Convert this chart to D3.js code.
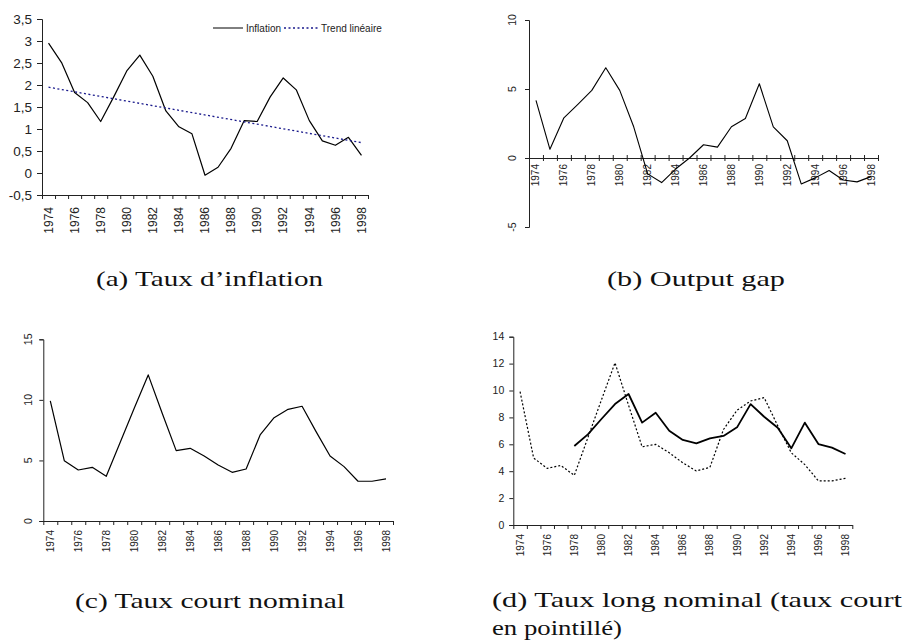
<!DOCTYPE html>
<html>
<head>
<meta charset="utf-8">
<script src="https://cdn.jsdelivr.net/npm/d3@7"></script>
<style>
  body { margin: 0; background: #fff; }
  svg { display: block; }
  .cap { font-family: "Liberation Serif", "Times New Roman", serif; fill: #111; }
  .lbl { font-family: "Liberation Sans", Arial, sans-serif; fill: #222; }
</style>
</head>
<body>
<div id="chart"></div>
<script>
var years = ["1974","1975","1976","1977","1978","1979","1980","1981","1982","1983","1984","1985","1986",
             "1987","1988","1989","1990","1991","1992","1993","1994","1995","1996","1997","1998"];
var yearLabels = ["1974","1976","1978","1980","1982","1984","1986","1988","1990","1992","1994","1996","1998"];

var inflation = [2.95, 2.51, 1.83, 1.60, 1.17, 1.73, 2.32, 2.68, 2.20, 1.41, 1.05, 0.89, -0.05,
                 0.13, 0.56, 1.19, 1.17, 1.73, 2.16, 1.89, 1.19, 0.73, 0.63, 0.81, 0.40];
// linear trend, only its two ends (1974, 1998)
var trendYears = ["1974", "1998"];
var trendEnds = [1.95, 0.69];

var outputGap = [4.18, 0.63, 2.91, 3.89, 4.90, 6.54, 4.90, 2.26, -1.15, -1.78, -0.80, 0.00, 0.96,
                 0.79, 2.26, 2.86, 5.38, 2.26, 1.25, -1.88, -1.44, -0.91, -1.59, -1.73, -1.35];

var shortRate = [9.91, 4.98, 4.21, 4.43, 3.69, 6.50, 9.30, 12.06, 8.90, 5.81, 6.00, 5.37, 4.62,
                 4.02, 4.29, 7.10, 8.53, 9.22, 9.47, 7.38, 5.37, 4.49, 3.28, 3.28, 3.47];

var longRate = [null, null, null, null, 5.87, 6.74, 7.88, 8.99, 9.74, 7.61, 8.35, 7.01, 6.32,
                6.07, 6.44, 6.62, 7.26, 8.99, 8.05, 7.23, 5.70, 7.61, 6.02, 5.75, 5.28];

var ticksA = [-0.5, 0, 0.5, 1, 1.5, 2, 2.5, 3, 3.5];
var ticksB = [-5, 0, 5, 10];
var ticksC = [0, 5, 10, 15];
var ticksD = [0, 2, 4, 6, 8, 10, 12, 14];

var svg = d3.select("#chart").append("svg")
    .attr("width", 903)
    .attr("height", 643);

var comma = function (v) { return String(v).replace(".", ","); };

function panel(p) {
    var g = svg.append("g");
    var x = d3.scaleBand().domain(years).range([p.x0, p.x1]).paddingInner(0).paddingOuter(0);
    var y = d3.scaleLinear().domain(p.domain).range([p.yBot, p.yTop]);
    var cx = function (yr) { return x(yr) + x.bandwidth() / 2; };
    var axisY = p.axisAtZero ? y(0) : p.yBot;

    // y axis
    var yAxis = d3.axisLeft(y).tickValues(p.ticks).tickSize(p.yTick).tickFormat("");
    g.append("g").attr("transform", "translate(" + p.x0 + ",0)").call(yAxis)
        .call(function (s) { s.selectAll("path,line").attr("stroke", "#222"); });

    // x axis with ticks between categories
    var edges = years.map(function (d) { return x(d); }).concat([p.x1]);
    var xs = d3.scaleLinear().domain([p.x0, p.x1]).range([p.x0, p.x1]);
    var xAxis = d3.axisBottom(xs).tickValues(edges).tickSizeInner(p.xTick).tickSizeOuter(0).tickFormat("");
    var xg = g.append("g").attr("transform", "translate(0," + axisY + ")").call(xAxis);
    xg.selectAll("path,line").attr("stroke", "#222");
    if (p.crossTicks) xg.selectAll(".tick line").attr("y1", -3);

    // y labels
    var yl = g.selectAll(".ylab").data(p.ticks).enter().append("text")
        .attr("class", "lbl")
        .style("font-size", p.yFont + "px")
        .text(function (d) { return p.fmt(d); });
    if (p.yRotate) {
        yl.attr("text-anchor", "middle")
          .attr("dy", "0.35em")
          .attr("transform", function (d) { return "translate(" + (p.x0 - p.yGap) + "," + y(d) + ") rotate(-90)"; });
    } else {
        yl.attr("text-anchor", "end")
          .attr("dy", "0.36em")
          .attr("x", p.x0 - p.yGap)
          .attr("y", function (d) { return y(d); });
    }

    // year labels
    g.selectAll(".xlab").data(yearLabels).enter().append("text")
        .attr("class", "lbl")
        .style("font-size", p.xFont + "px")
        .attr("text-anchor", "end")
        .attr("dy", "0.35em")
        .attr("transform", function (d) { return "translate(" + cx(d) + "," + (axisY + p.xGap) + ") rotate(-90)"; })
        .text(function (d) { return d; });

    // series
    p.series.forEach(function (s) {
        var line = d3.line()
            .defined(function (d) { return d != null; })
            .x(function (d, i) { return cx(s.cats ? s.cats[i] : years[i]); })
            .y(function (d) { return y(d); });
        g.append("path")
            .datum(s.values)
            .attr("fill", "none")
            .attr("stroke", s.color)
            .attr("stroke-width", s.width)
            .attr("stroke-dasharray", s.dash || null)
            .attr("stroke-linejoin", "round")
            .attr("d", line);
    });
    return g;
}

// (a)
var ga = panel({
    x0: 42, x1: 368, yTop: 19, yBot: 195, domain: [-0.5, 3.5], ticks: ticksA,
    yTick: 5, xTick: 4, yGap: 10, xGap: 12, yFont: 13.5, xFont: 12, fmt: comma,
    series: [
        {values: inflation, color: "#000", width: 1.2},
        {values: trendEnds, cats: trendYears, color: "#1a1a8c", width: 1.3, dash: "2,2.5"}
    ]
});
ga.append("line").attr("x1", 213).attr("x2", 243).attr("y1", 28).attr("y2", 28)
    .attr("stroke", "#000").attr("stroke-width", 1);
ga.append("text").attr("class", "lbl").style("font-size", "10px").attr("x", 246).attr("y", 31.5).text("Inflation");
ga.append("line").attr("x1", 284).attr("x2", 319).attr("y1", 28).attr("y2", 28)
    .attr("stroke", "#1a1a8c").attr("stroke-width", 1.3).attr("stroke-dasharray", "2,2.5");
ga.append("text").attr("class", "lbl").style("font-size", "10px").attr("x", 321).attr("y", 31.5).text("Trend linéaire");

// (b)
panel({
    x0: 529, x1: 878, yTop: 20, yBot: 227, domain: [-5, 10], ticks: ticksB, axisAtZero: true, crossTicks: true,
    yTick: 4, xTick: 3, yGap: 17, xGap: 6, yFont: 10.5, xFont: 10, yRotate: true, fmt: String,
    series: [{values: outputGap, color: "#000", width: 1.1}]
});

// (c)
panel({
    x0: 43.3, x1: 393, yTop: 339.3, yBot: 521, domain: [0, 15], ticks: ticksC,
    yTick: 4, xTick: 4, yGap: 15, xGap: 9, yFont: 10.5, xFont: 10, yRotate: true, fmt: String,
    series: [{values: shortRate, color: "#000", width: 1.2}]
});

// (d)
panel({
    x0: 513.3, x1: 852.3, yTop: 336.7, yBot: 525, domain: [0, 14], ticks: ticksD,
    yTick: 4, xTick: 4, yGap: 9, xGap: 9, yFont: 10.5, xFont: 10, fmt: String,
    series: [
        {values: shortRate, color: "#000", width: 1.2, dash: "2,2"},
        {values: longRate, color: "#000", width: 1.8}
    ]
});

// captions
var caps = [
    {t: "(a) Taux d\u2019inflation", x: 96, y: 286, w: 227},
    {t: "(b) Output gap", x: 607, y: 286, w: 178},
    {t: "(c) Taux court nominal", x: 75, y: 608, w: 270},
    {t: "(d) Taux long nominal (taux court", x: 492, y: 607, w: 410},
    {t: "en pointill\u00e9)", x: 492, y: 635, w: 130}
];
svg.selectAll(".cap").data(caps).enter().append("text")
    .attr("class", "cap")
    .style("font-size", "21px")
    .attr("x", function (d) { return d.x; })
    .attr("y", function (d) { return d.y; })
    .attr("textLength", function (d) { return d.w; })
    .attr("lengthAdjust", "spacingAndGlyphs")
    .text(function (d) { return d.t; });
</script>
</body>
</html>
